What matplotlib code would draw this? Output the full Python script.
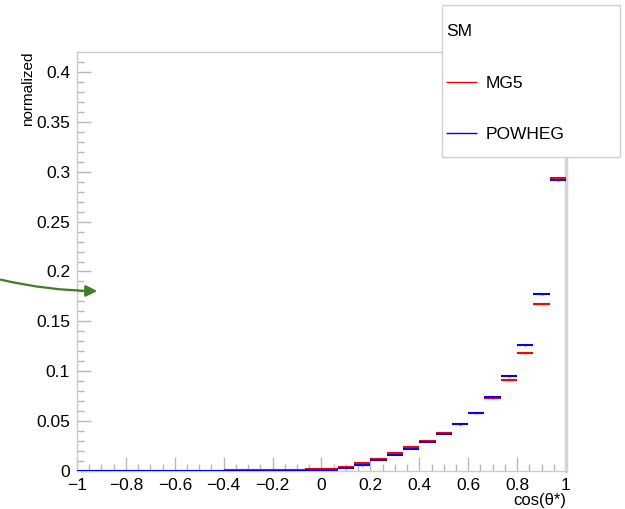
import numpy as np
import matplotlib
matplotlib.use("Agg")
import matplotlib.pyplot as plt
from matplotlib.patches import Rectangle

plt.rcParams['font.family'] = ['Liberation Sans', 'DejaVu Sans']

# 30 bins in cos(theta*) from -1 to 1
edges = np.linspace(-1, 1, 31)

mg5 = [0, 0, 0, 0.0001, 0.0002, 0.0002, 0.0003, 0.0004, 0.0005, 0.0006,
       0.0007, 0.0009, 0.0011, 0.0013, 0.0016,
       0.0020, 0.0040, 0.0077, 0.0117, 0.0180, 0.0237, 0.0304, 0.0380,
       0.0470, 0.0580, 0.0729, 0.0912, 0.1186, 0.1670, 0.2937]
powheg = [0, 0, 0, 0, 0, 0, 0, 0.0001, 0.0001, 0.0001,
          0.0002, 0.0003, 0.0004, 0.0005, 0.0007,
          0.0010, 0.0027, 0.0057, 0.0113, 0.0164, 0.0224, 0.0290, 0.0370,
          0.0470, 0.0582, 0.0742, 0.0952, 0.1260, 0.1770, 0.2917]
mg5_err = [0]*15 + [0.0001, 0.0002, 0.0003, 0.0003, 0.0004, 0.0004, 0.0005, 0.0005,
                    0.0006, 0.0006, 0.0007, 0.0008, 0.0009, 0.0011, 0.0013]
powheg_err = [0]*15 + [0.0001, 0.0001, 0.0002, 0.0002, 0.0003, 0.0003, 0.0003, 0.0004,
                       0.0004, 0.0005, 0.0005, 0.0006, 0.0007, 0.0008, 0.0010]

xticks = [-1, -0.8, -0.6, -0.4, -0.2, 0, 0.2, 0.4, 0.6, 0.8, 1]
xlabels = ['\u22121', '\u22120.8', '\u22120.6', '\u22120.4', '\u22120.2', '0',
           '0.2', '0.4', '0.6', '0.8', '1']
yticks = [0, 0.05, 0.1, 0.15, 0.2, 0.25, 0.3, 0.35, 0.4]
ylabels = ['0', '0.05', '0.1', '0.15', '0.2', '0.25', '0.3', '0.35', '0.4']

W, H = 625, 509
fig = plt.figure(figsize=(W/100, H/100), dpi=100)
ax = fig.add_axes([77/W, 1-471/H, (566-77)/W, (471-52)/H])

lo = edges[:-1]
hi = edges[1:]
centers = 0.5*(lo+hi)

h_red = ax.hlines(mg5, lo, hi, colors='red', lw=1.5, zorder=3)
ax.errorbar(centers, mg5, yerr=mg5_err, fmt='none', ecolor='red', elinewidth=1, zorder=3)
h_blue = ax.hlines(powheg, lo, hi, colors='blue', lw=1.5, zorder=4)
ax.errorbar(centers, powheg, yerr=powheg_err, fmt='none', ecolor='blue', elinewidth=1, zorder=4)

ax.set_xlim(-1, 1)
ax.set_ylim(0, 0.42)
ax.set_xticks(xticks)
ax.set_xticklabels(xlabels)
ax.set_yticks(yticks)
ax.set_yticklabels(ylabels)
ax.set_xticks(np.arange(-1, 1.001, 0.05), minor=True)
ax.set_yticks(np.arange(0, 0.42, 0.01), minor=True)

ax.tick_params(which='both', direction='in', colors='#b8b8b8', labelcolor='black',
               labelsize=12.5, top=False, right=False)
ax.tick_params(which='major', length=10, width=1, pad=5)
ax.tick_params(which='minor', length=5, width=1)

for s in ['left', 'top', 'bottom']:
    ax.spines[s].set_color('#cccccc')
    ax.spines[s].set_linewidth(1)
ax.spines['right'].set_color('#d4d4d4')
ax.spines['right'].set_linewidth(2.5)

ax.set_ylabel('normalized', fontsize=11, loc='top')
ax.yaxis.set_label_coords(-0.086, 1.0)
ax.set_xlabel('cos(\u03b8*)', fontsize=12, loc='right')
ax.xaxis.set_label_coords(1.0, -0.052)

# legend box
box = Rectangle((442/W, 1-157/H), 178/W, 152/H, transform=fig.transFigure,
                facecolor='white', edgecolor='#d0d0d0', lw=1, zorder=2)
fig.add_artist(box)
leg = fig.legend([h_red, h_blue], ['MG5', 'POWHEG'], title='SM', title_fontsize=12.5,
                 fontsize=12.5, loc='upper left', bbox_to_anchor=(446/W, 1-24/H),
                 frameon=False, borderpad=0, borderaxespad=0, labelspacing=2.1,
                 handlelength=1.8, handletextpad=0.5, alignment='left')
for lh in leg.legend_handles:
    lh.set_linewidth(1)

# green arrow
ax.annotate('', xy=(100/W, 1-291/H), xycoords='figure fraction',
            xytext=(-2/W, 1-279/H), textcoords='figure fraction',
            arrowprops=dict(arrowstyle='-|>', color='#3c7f24', lw=1.6,
                            mutation_scale=17, connectionstyle='arc3,rad=0.06'),
            annotation_clip=False)

fig.savefig('out.png', dpi=100)
